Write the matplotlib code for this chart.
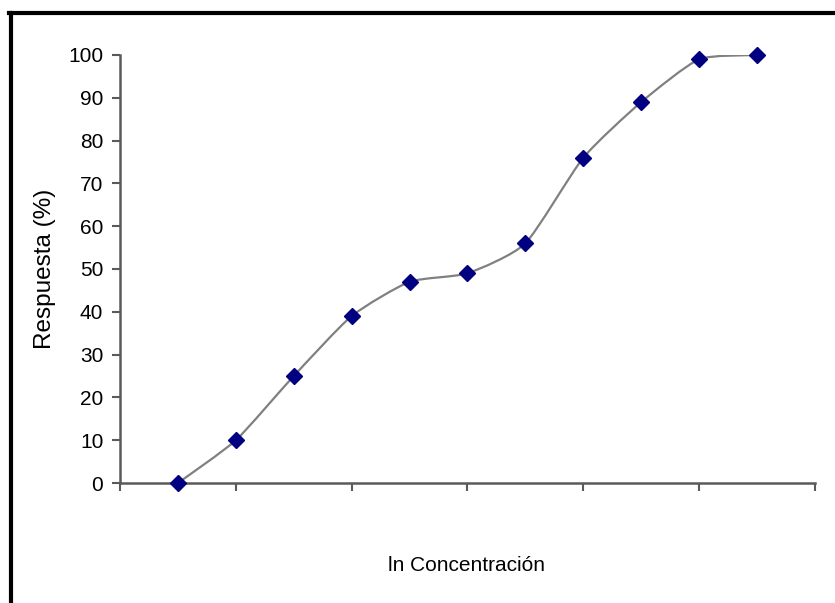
#!/usr/bin/env python3
"""Dose-response curve: Respuesta (%) vs ln Concentración."""

import matplotlib
matplotlib.use("Agg")
import matplotlib.pyplot as plt
from matplotlib.lines import Line2D
from matplotlib.path import Path
from matplotlib.patches import PathPatch

ln_conc = [1, 2, 3, 4, 5, 6, 7, 8, 9, 10, 11]
respuesta = [0, 10, 25, 39, 47, 49, 56, 76, 89, 99, 100]
y_ticks = [0, 10, 20, 30, 40, 50, 60, 70, 80, 90, 100]
x_ticks = [0, 2, 4, 6, 8, 10, 12]


def smooth_path(xs, ys, k=10):
    # gentle bezier smoothing, like a spreadsheet "smoothed line"
    pts = list(zip(xs, ys))
    verts = [pts[0]]
    codes = [Path.MOVETO]
    n = len(pts)
    for i in range(n - 1):
        p0 = pts[max(i - 1, 0)]
        p1 = pts[i]
        p2 = pts[i + 1]
        p3 = pts[min(i + 2, n - 1)]
        c1 = (p1[0] + (p2[0] - p0[0]) / k, p1[1] + (p2[1] - p0[1]) / k)
        c2 = (p2[0] - (p3[0] - p1[0]) / k, p2[1] - (p3[1] - p1[1]) / k)
        verts += [c1, c2, p2]
        codes += [Path.CURVE4] * 3
    return Path(verts, codes)


plt.rcParams["font.family"] = ["Liberation Sans", "DejaVu Sans"]

fig = plt.figure(figsize=(8.35, 6.03), dpi=100)
ax = fig.add_axes([0.1437, 0.199, 0.8323, 0.7098])

ax.add_patch(PathPatch(smooth_path(ln_conc, respuesta), facecolor="none",
                       edgecolor="#808080", linewidth=1.6, zorder=2))
ax.plot(ln_conc, respuesta, linestyle="none", marker="D", markersize=8.5,
        color="#000080", zorder=3, clip_on=False)

ax.set_xlim(0, 12)
ax.set_ylim(0, 100)
ax.set_xticks(x_ticks)
ax.set_xticklabels([])
ax.set_yticks(y_ticks)
ax.tick_params(axis="both", direction="out", length=6, width=1.5, color="#5a5a5a",
               labelsize=15, pad=6)
for side in ("top", "right"):
    ax.spines[side].set_visible(False)
for side in ("left", "bottom"):
    ax.spines[side].set_color("#5a5a5a")
    ax.spines[side].set_linewidth(1.8)

ax.set_ylabel("Respuesta (%)", fontsize=17.5)
ax.yaxis.set_label_coords(-0.092, 0.5)
fig.text(0.559, 0.063, "ln Concentración", fontsize=15, ha="center", va="center")

# outer frame (only left and top edges visible in the crop)
fig.add_artist(Line2D([0.0126, 0.0126], [0.0, 0.979], color="black", linewidth=3,
                      transform=fig.transFigure))
fig.add_artist(Line2D([0.0108, 1.0], [0.979, 0.979], color="black", linewidth=3,
                      transform=fig.transFigure))

fig.savefig("out.png", dpi=100)
